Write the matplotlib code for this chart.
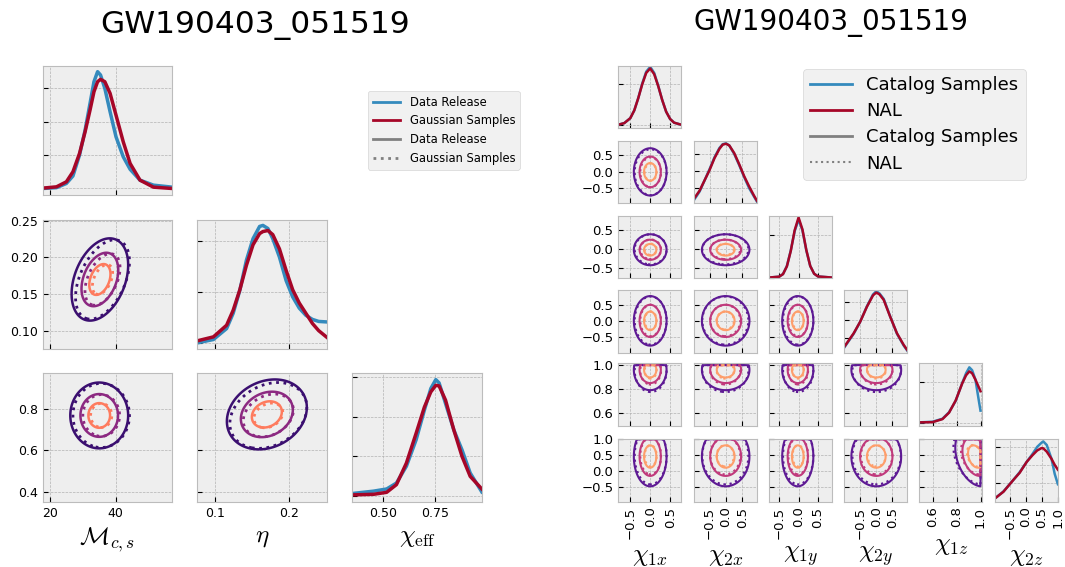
import numpy as np
import matplotlib
matplotlib.use('Agg')
import matplotlib.pyplot as plt
from matplotlib.lines import Line2D

plt.style.use('bmh')

BLUE = '#348ABD'
RED = '#A60628'

# ---------------- left corner plot (GW190403_051519, 3 params) ----------------
left_labels = [r'$\mathcal{M}_{c,s}$', r'$\eta$', r'$\chi_{\rm eff}$']
left_lims = [(17.8, 57.2), (0.076, 0.251), (0.35, 0.975)]
left_xticks = [[20, 40], [0.1, 0.2], [0.5, 0.75]]
left_yticks = [None, [0.10, 0.15, 0.20, 0.25], [0.4, 0.6, 0.8]]

# 1D marginals
mc_grid = [17.8, 22, 25, 27, 29, 30.7, 32.2, 33.4, 34.5, 35.4, 36.7, 38.3, 40.1, 42.3, 44.4, 47.4, 51.5, 57.2]
mc_release = [0.0, 0.0005, 0.003, 0.0075, 0.020, 0.035, 0.051, 0.064, 0.070, 0.068, 0.060, 0.046, 0.031, 0.019, 0.0115, 0.005, 0.002, 0.0008]
mc_gauss = [0.0002, 0.001, 0.004, 0.010, 0.021, 0.034, 0.047, 0.058, 0.0640, 0.0654, 0.064, 0.057, 0.044, 0.028, 0.015, 0.005, 0.0008, 0.0]

eta_grid = [0.076, 0.0978, 0.1156, 0.1245, 0.1335, 0.1424, 0.1513, 0.1602, 0.1647, 0.1714, 0.178, 0.187, 0.196, 0.2049, 0.2138, 0.2227, 0.2316, 0.240, 0.251]
eta_release = [0.0, 0.33, 1.4, 2.9, 5.16, 8.1, 10.2, 11.4, 11.5, 11.2, 10.2, 8.4, 6.1, 4.5, 3.4, 2.7, 2.3, 2.1, 2.05]
eta_gauss = [0.2, 0.59, 1.73, 3.2, 5.2, 7.6, 9.6, 10.7, 10.9, 11.0, 10.6, 9.2, 7.1, 5.2, 3.9, 2.9, 1.9, 1.2, 0.55]

chieff_grid = [0.35, 0.4526, 0.5158, 0.563, 0.611, 0.658, 0.698, 0.729, 0.753, 0.769, 0.80, 0.84, 0.8795, 0.919, 0.975]
chieff_release = [0.12, 0.24, 0.35, 0.65, 1.5, 2.84, 4.35, 5.44, 5.89, 5.72, 4.68, 3.34, 2.33, 1.16, 0.2]
chieff_gauss = [0.05, 0.08, 0.18, 0.57, 1.66, 3.17, 4.5, 5.27, 5.6, 5.57, 4.85, 3.34, 2.0, 0.99, 0.35]

left_diag = [(mc_grid, mc_release, mc_gauss), (eta_grid, eta_release, eta_gauss),
             (chieff_grid, chieff_release, chieff_gauss)]
left_diag_ylim = [(-0.0036, 0.0734), (-0.55, 12.03), (-0.30, 6.21)]
left_diag_yticks = [[0, 0.02, 0.04, 0.06], [0, 5, 10], [0, 2, 4, 6]]

# 2D contours: (row, col) -> mean_x, mean_y, sigma_x, sigma_y, rho
left_release_2d = {(1, 0): [35.2, 0.170, 4.3, 0.028, 0.35],
                   (2, 0): [35.0, 0.770, 4.4, 0.080, 0.0],
                   (2, 1): [0.170, 0.775, 0.027, 0.085, 0.2]}
left_gauss_2d = {(1, 0): [36.0, 0.170, 4.1, 0.027, 0.45],
                 (2, 0): [35.6, 0.770, 4.3, 0.078, 0.0],
                 (2, 1): [0.172, 0.770, 0.026, 0.080, 0.25]}

# ---------------- right corner plot (spin components, 6 params) ----------------
right_labels = [r'$\chi_{1x}$', r'$\chi_{2x}$', r'$\chi_{1y}$', r'$\chi_{2y}$', r'$\chi_{1z}$', r'$\chi_{2z}$']
right_lims = [(-0.8, 0.78), (-0.97, 0.94), (-0.76, 0.86), (-0.99, 0.96), (0.49, 1.015), (-0.975, 1.003)]
right_xticks = [[-0.5, 0, 0.5]] * 4 + [[0.6, 0.8, 1.0], [-0.5, 0, 0.5, 1.0]]
right_yticks = right_xticks

chi1x_grid = [-0.8, -0.65, -0.5, -0.4, -0.3, -0.2, -0.1, 0.0, 0.1, 0.2, 0.3, 0.4, 0.5, 0.6, 0.78]
chi1x_cat = [0.01, 0.05, 0.17, 0.36, 0.66, 1.02, 1.31, 1.43, 1.28, 0.97, 0.62, 0.33, 0.15, 0.06, 0.01]
chi1x_nal = [0.01, 0.05, 0.17, 0.36, 0.66, 1.0, 1.28, 1.39, 1.25, 0.96, 0.62, 0.33, 0.15, 0.06, 0.01]

chi2x_grid = [-0.97, -0.8, -0.65, -0.5, -0.35, -0.2, -0.1, 0.0, 0.1, 0.25, 0.4, 0.55, 0.7, 0.85, 0.94]
chi2x_cat = [0.06, 0.16, 0.29, 0.42, 0.56, 0.67, 0.715, 0.725, 0.70, 0.60, 0.47, 0.33, 0.20, 0.10, 0.04]
chi2x_nal = [0.075, 0.17, 0.29, 0.41, 0.55, 0.66, 0.71, 0.72, 0.70, 0.61, 0.48, 0.34, 0.22, 0.11, 0.05]

chi1y_grid = [-0.76, -0.5, -0.4, -0.3, -0.2, -0.1, 0.0, 0.1, 0.2, 0.3, 0.4, 0.5, 0.86]
chi1y_cat = [0.0, 0.02, 0.08, 0.27, 0.63, 1.08, 1.35, 1.1, 0.63, 0.27, 0.09, 0.025, 0.0]
chi1y_nal = [0.0, 0.02, 0.08, 0.26, 0.62, 1.1, 1.40, 1.12, 0.64, 0.27, 0.09, 0.025, 0.0]

chi2y_grid = [-0.99, -0.7, -0.5, -0.29, -0.1, 0.0, 0.1, 0.23, 0.43, 0.64, 0.85, 0.96]
chi2y_cat = [0.10, 0.25, 0.38, 0.55, 0.68, 0.715, 0.69, 0.63, 0.44, 0.25, 0.12, 0.065]
chi2y_nal = [0.108, 0.255, 0.38, 0.545, 0.67, 0.70, 0.68, 0.62, 0.436, 0.255, 0.127, 0.072]

chi1z_grid = [0.49, 0.6, 0.683, 0.738, 0.793, 0.848, 0.88, 0.907, 0.93, 0.958, 0.975, 0.99, 1.0]
chi1z_cat = [0.02, 0.05, 0.2, 0.52, 1.08, 1.97, 2.45, 2.74, 2.6, 2.13, 1.5, 0.95, 0.6]
chi1z_nal = [0.02, 0.03, 0.18, 0.5, 1.1, 1.95, 2.35, 2.54, 2.45, 2.13, 1.9, 1.7, 1.56]

chi2z_grid = [-0.975, -0.71, -0.4, -0.2, 0.02, 0.2, 0.35, 0.49, 0.54, 0.65, 0.8, 0.9, 1.0]
chi2z_cat = [0.045, 0.16, 0.35, 0.48, 0.65, 0.78, 0.9, 0.97, 0.99, 0.93, 0.7, 0.45, 0.28]
chi2z_nal = [0.045, 0.155, 0.35, 0.47, 0.65, 0.76, 0.84, 0.88, 0.875, 0.82, 0.7, 0.6, 0.52]

right_diag = [(chi1x_grid, chi1x_cat, chi1x_nal), (chi2x_grid, chi2x_cat, chi2x_nal),
              (chi1y_grid, chi1y_cat, chi1y_nal), (chi2y_grid, chi2y_cat, chi2y_nal),
              (chi1z_grid, chi1z_cat, chi1z_nal), (chi2z_grid, chi2z_cat, chi2z_nal)]
right_diag_ylim = [(-0.08, 1.457), (0.02, 0.756), (-0.02, 1.44), (0.043, 0.728), (-0.16, 2.94), (-0.01, 1.03)]
right_diag_yticks = [[0, 1], [0.2, 0.4, 0.6], [0, 1], [0.2, 0.4, 0.6], [0, 2], [0.3, 0.6, 0.9]]

# per-parameter centre and contour width, catalog (solid) and NAL (dotted)
right_mean_cat = [0.0, -0.01, -0.02, 0.0, 0.96, 0.45]
right_sig_cat = [0.205, 0.36, 0.20, 0.385, 0.085, 0.47]
right_mean_nal = [0.01, -0.02, -0.01, 0.01, 0.955, 0.47]
right_sig_nal = [0.20, 0.35, 0.195, 0.375, 0.09, 0.45]
right_rho = {(5, 4): -0.3}

# contour radii (in sigma) for the three credible regions, outer to inner
RADII = [2.0, 1.3, 0.75]
LEFT_COLORS = ['#3b0f70', '#8c2981', '#fe7b5e']
RIGHT_COLORS = ['#5e1a94', '#c03a7c', '#fe9e6b']

W, H = 1065, 567
fig = plt.figure(figsize=(W / 100, H / 100), dpi=100)


def box(x, y, w, h):
    return [x / W, 1 - (y + h) / H, w / W, h / H]


def contours(ax, xlim, ylim, p, ls, colors, lw, clip=False):
    mx, my, sx, sy, rho = p
    X, Y = np.meshgrid(np.linspace(*xlim, 160), np.linspace(*ylim, 160))
    u = (X - mx) / sx
    v = (Y - my) / sy
    Z = np.exp(-0.5 * (u * u - 2 * rho * u * v + v * v) / (1 - rho ** 2))
    if clip:
        Z[(np.abs(X) > 1) | (np.abs(Y) > 1)] = 0
    levels = [np.exp(-0.5 * r ** 2) for r in RADII]
    ax.contour(X, Y, Z, levels=levels, colors=colors, linestyles=ls, linewidths=lw)


def corner(n, x0s, tops, w, h, labels, lims, xticks, yticks, diag, dylim, dyticks,
           draw_pair, tick_size, lw_diag, rotate):
    for i in range(n):
        for j in range(i + 1):
            ax = fig.add_axes(box(x0s[j], tops[i], w, h))
            if i == j:
                grid, a, b = diag[i]
                ax.plot(grid, a, color=BLUE, lw=lw_diag)
                ax.plot(grid, b, color=RED, lw=lw_diag)
                ax.set_ylim(dylim[i])
                ax.set_yticks(dyticks[i])
                ax.set_yticklabels([])
            else:
                draw_pair(ax, i, j)
                ax.set_ylim(lims[i])
                ax.set_yticks(yticks[i])
                if j > 0:
                    ax.set_yticklabels([])
            ax.set_xlim(lims[j])
            ax.set_xticks(xticks[j])
            if i < n - 1:
                ax.set_xticklabels([])
            else:
                ax.set_xlabel(labels[j], fontsize=18)
            ax.tick_params(labelsize=tick_size)
            if rotate:
                ax.tick_params(axis='x', labelrotation=90)


def left_pair(ax, i, j):
    contours(ax, left_lims[j], left_lims[i], left_release_2d[(i, j)], '-', LEFT_COLORS, 1.8)
    contours(ax, left_lims[j], left_lims[i], left_gauss_2d[(i, j)], ':', LEFT_COLORS, 2.0)


def right_pair(ax, i, j):
    rho = right_rho.get((i, j), 0.0)
    p_cat = [right_mean_cat[j], right_mean_cat[i], right_sig_cat[j], right_sig_cat[i], rho]
    p_nal = [right_mean_nal[j], right_mean_nal[i], right_sig_nal[j], right_sig_nal[i], rho]
    contours(ax, right_lims[j], right_lims[i], p_cat, '-', RIGHT_COLORS, 1.5, clip=True)
    contours(ax, right_lims[j], right_lims[i], p_nal, ':', RIGHT_COLORS, 1.6, clip=True)


corner(3, [42.7, 197.3, 352.3], [66, 220, 373.3], 129.5, 128.5, left_labels, left_lims,
       left_xticks, left_yticks, left_diag, left_diag_ylim, left_diag_yticks, left_pair, 9, 2.5, False)
corner(6, [618.3, 694, 769, 844.3, 919.3, 995], [65.7, 140.7, 215.7, 290, 363.3, 439], 63, 62.7,
       right_labels, right_lims, right_xticks, right_yticks, right_diag, right_diag_ylim,
       right_diag_yticks, right_pair, 9.5, 1.8, True)

fig.text(255 / W, 1 - 33 / H, 'GW190403_051519', fontsize=22.5, ha='center', va='baseline')
fig.text(831 / W, 1 - 30 / H, 'GW190403_051519', fontsize=20, ha='center', va='baseline')

left_handles = [Line2D([], [], color=BLUE, lw=2), Line2D([], [], color=RED, lw=2),
                Line2D([], [], color='gray', lw=2), Line2D([], [], color='gray', lw=2, ls=':')]
fig.legend(left_handles, ['Data Release', 'Gaussian Samples', 'Data Release', 'Gaussian Samples'],
           loc='upper left', bbox_to_anchor=(368 / W, 1 - 91 / H), borderaxespad=0,
           fontsize=8.3, handlelength=2.4)
right_handles = [Line2D([], [], color=BLUE, lw=2), Line2D([], [], color=RED, lw=2),
                 Line2D([], [], color='gray', lw=2), Line2D([], [], color='gray', lw=1.5, ls=':')]
fig.legend(right_handles, ['Catalog Samples', 'NAL', 'Catalog Samples', 'NAL'],
           loc='upper left', bbox_to_anchor=(803 / W, 1 - 69 / H), borderaxespad=0,
           fontsize=13, handlelength=2.3, labelspacing=0.45)

fig.savefig('out.png', dpi=100)
